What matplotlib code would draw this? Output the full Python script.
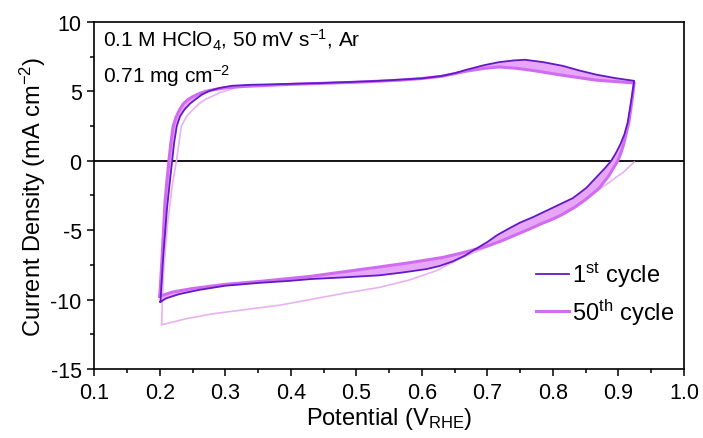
import numpy as np
import matplotlib
matplotlib.use('Agg')
import matplotlib.pyplot as plt

plt.rcParams['font.family'] = ['Liberation Sans', 'DejaVu Sans']
plt.rcParams['mathtext.fontset'] = 'custom'
plt.rcParams['mathtext.rm'] = 'Liberation Sans'
plt.rcParams['mathtext.it'] = 'Liberation Sans'
plt.rcParams['axes.unicode_minus'] = False

# 1st cycle, anodic and cathodic branches
e1_up = [0.201, 0.203, 0.205, 0.208, 0.211, 0.215, 0.219, 0.222, 0.226, 0.231, 0.238, 0.246, 0.254,
         0.264, 0.276, 0.292, 0.311, 0.34, 0.372, 0.45, 0.535, 0.60, 0.63, 0.65, 0.668, 0.695, 0.718,
         0.74, 0.757, 0.785, 0.815, 0.84, 0.866, 0.895, 0.924]
j1_up = [-10.16, -8.7, -7.1, -5.3, -3.5, -1.7, 0.0, 1.3, 2.5, 3.2, 3.7, 4.1, 4.4,
         4.75, 5.03, 5.25, 5.4, 5.47, 5.5, 5.6, 5.75, 5.93, 6.1, 6.3, 6.55, 6.88, 7.1,
         7.22, 7.27, 7.1, 6.83, 6.5, 6.2, 5.95, 5.75]
e1_dn = [0.924, 0.923, 0.922, 0.918, 0.914, 0.909, 0.903, 0.896, 0.889, 0.88, 0.87, 0.86, 0.851,
         0.84, 0.83, 0.81, 0.79, 0.77, 0.75, 0.734, 0.715, 0.70, 0.683, 0.665, 0.647, 0.627, 0.607,
         0.57, 0.535, 0.48, 0.43, 0.398, 0.35, 0.30, 0.26, 0.23, 0.21, 0.201]
j1_dn = [5.75, 5.45, 5.15, 3.9, 2.76, 1.9, 1.2, 0.55, 0.0, -0.5, -1.0, -1.5, -1.95,
         -2.35, -2.7, -3.15, -3.6, -4.05, -4.45, -4.85, -5.35, -5.85, -6.33, -6.85, -7.25, -7.58, -7.8,
         -8.05, -8.25, -8.4, -8.52, -8.65, -8.8, -9.0, -9.3, -9.6, -9.9, -10.16]

# 50th cycle
e50_up = [0.200, 0.202, 0.204, 0.206, 0.208, 0.211, 0.214, 0.217, 0.2205, 0.225, 0.2306, 0.236, 0.243,
          0.25, 0.2585, 0.27, 0.2866, 0.305, 0.33, 0.40, 0.50, 0.566, 0.60, 0.63, 0.65, 0.668, 0.695,
          0.718, 0.745, 0.769, 0.815, 0.866, 0.924]
j50_up = [-9.75, -8.2, -6.5, -4.8, -3.0, -1.4, 0.0, 1.3, 2.5, 3.15, 3.7, 4.1, 4.4,
          4.6, 4.8, 5.0, 5.15, 5.27, 5.35, 5.5, 5.65, 5.8, 5.92, 6.08, 6.27, 6.45, 6.65,
          6.75, 6.65, 6.5, 6.15, 5.8, 5.6]
e50_dn = [0.924, 0.923, 0.922, 0.919, 0.916, 0.912, 0.908, 0.904, 0.899, 0.892, 0.885, 0.87, 0.851,
          0.835, 0.815, 0.80, 0.784, 0.765, 0.75, 0.735, 0.72, 0.705, 0.693, 0.66, 0.632, 0.58, 0.53,
          0.48, 0.429, 0.35, 0.30, 0.25, 0.22, 0.20]
j50_dn = [5.6, 5.25, 4.8, 3.8, 2.8, 2.0, 1.2, 0.6, 0.0, -0.55, -1.1, -2.0, -2.75,
          -3.3, -3.85, -4.2, -4.5, -4.9, -5.2, -5.5, -5.8, -6.05, -6.24, -6.65, -6.96, -7.35, -7.68,
          -8.0, -8.33, -8.7, -8.9, -9.2, -9.45, -9.75]

# initial sweep (thin pale line)
e0_dn = [0.924, 0.916, 0.907, 0.896, 0.886, 0.871, 0.85, 0.80, 0.75, 0.70, 0.66, 0.622, 0.58,
         0.535, 0.48, 0.429, 0.383, 0.33, 0.281, 0.24, 0.203]
j0_dn = [-0.1, -0.45, -0.85, -1.2, -1.56, -2.04, -2.8, -4.1, -5.2, -6.2, -7.0, -7.92, -8.6,
         -9.12, -9.55, -10.0, -10.4, -10.72, -11.02, -11.38, -11.81]
e0_up = [0.203, 0.204, 0.206, 0.209, 0.212, 0.216, 0.219, 0.2256, 0.233, 0.241, 0.251, 0.26, 0.269,
         0.2916, 0.322, 0.36, 0.40]
j0_up = [-11.8, -10.0, -8.0, -6.2, -4.5, -3.0, -1.8, 0.0, 2.5, 3.2, 3.7, 4.1, 4.4,
         4.9, 5.35, 5.45, 5.5]

c_first = '#6418c8'
c_fifty = '#cf6cf0'
c_band = '#e8a6f8'
c_pale = '#e8b2f2'

fig = plt.figure(figsize=(7.03, 4.39), dpi=100)
ax = fig.add_axes([0.134, 0.157, 0.839, 0.791])

ax.axhline(0, color='k', lw=1.3, zorder=1)

ax.plot(e0_dn, j0_dn, color=c_pale, lw=1.2, zorder=2)
ax.plot(e0_up, j0_up, color=c_pale, lw=1.2, zorder=2)

# band between 1st and 50th cycle
ax.fill(np.concatenate([e1_up, e50_up[::-1]]), np.concatenate([j1_up, j50_up[::-1]]),
        color=c_band, lw=0, zorder=3)
ax.fill(np.concatenate([e1_dn, e50_dn[::-1]]), np.concatenate([j1_dn, j50_dn[::-1]]),
        color=c_band, lw=0, zorder=3)

ax.plot(np.concatenate([e50_up, e50_dn]), np.concatenate([j50_up, j50_dn]),
        color=c_fifty, lw=2.2, zorder=4, label='50$^{\\mathrm{th}}$ cycle')
ax.plot(np.concatenate([e1_up, e1_dn]), np.concatenate([j1_up, j1_dn]),
        color=c_first, lw=1.3, zorder=5, label='1$^{\\mathrm{st}}$ cycle')

ax.set_xlim(0.1, 1.0)
ax.set_ylim(-15, 10)
ax.set_xticks(np.arange(0.1, 1.01, 0.1))
ax.set_xticklabels(['%.1f' % v for v in np.arange(0.1, 1.01, 0.1)])
ax.set_xticks(np.arange(0.15, 1.0, 0.1), minor=True)
ax.set_yticks(np.arange(-15, 11, 5))
ax.set_yticks(np.arange(-12.5, 10, 5), minor=True)
ax.tick_params(which='major', direction='out', length=5, width=1.1, labelsize=15.5, pad=4)
ax.tick_params(which='minor', direction='out', length=3, width=1.1)
for s in ax.spines.values():
    s.set_linewidth(1.2)

ax.set_xlabel('Potential (V$_{\\mathrm{RHE}}$)', fontsize=17, labelpad=2)
ax.set_ylabel('Current Density (mA cm$^{\\mathrm{-2}}$)', fontsize=17, labelpad=2)

ax.text(0.015, 0.93, '0.1 M HClO$_4$, 50 mV s$^{\\mathrm{-1}}$, Ar', transform=ax.transAxes, fontsize=15)
ax.text(0.015, 0.828, '0.71 mg cm$^{\\mathrm{-2}}$', transform=ax.transAxes, fontsize=15)

h, l = ax.get_legend_handles_labels()
ax.legend(h[::-1], l[::-1], loc='lower right', bbox_to_anchor=(1.0, 0.095), frameon=False,
          fontsize=17, handlelength=1.4, handletextpad=0.15, labelspacing=0.3, borderaxespad=0)

fig.savefig('out.png', dpi=100)
